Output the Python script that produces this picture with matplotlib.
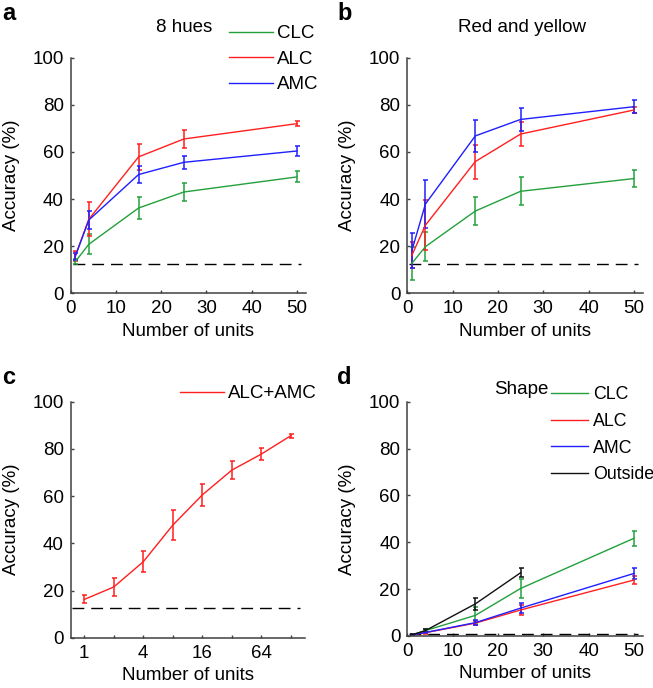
import matplotlib
matplotlib.use("Agg")
import matplotlib.pyplot as plt
import numpy as np

plt.rcParams['font.family'] = ['Liberation Sans', 'DejaVu Sans']
plt.rcParams['font.size'] = 13.5

GREEN = '#23a03c'
RED = '#ff1f1f'
BLUE = '#1f1fff'
BLACK = '#111111'

# panel a: 8 hues
units = [1, 4, 15, 25, 50]
a_clc = [13.4, 20.8, 36.2, 43.0, 49.4]
a_clc_err = [1.0, 4.2, 4.5, 4.0, 2.3]
a_alc = [15.8, 31.4, 57.9, 65.5, 72.0]
a_alc_err = [2.1, 7.2, 5.5, 3.7, 1.1]
a_amc = [15.6, 31.1, 50.4, 55.6, 60.4]
a_amc_err = [1.6, 4.0, 3.5, 2.8, 2.0]

# panel b: red and yellow
b_clc = [12.7, 19.8, 34.9, 43.3, 48.7]
b_clc_err = [7.0, 6.3, 5.9, 5.9, 3.7]
b_alc = [16.1, 28.9, 55.9, 67.6, 77.8]
b_alc_err = [5.5, 10.7, 7.2, 5.0, 1.4]
b_amc = [18.1, 37.9, 66.8, 73.8, 79.2]
b_amc_err = [7.4, 10.3, 6.9, 4.7, 2.8]

# panel c: ALC+AMC, log2 units
c_units = [1, 2, 4, 8, 16, 32, 64, 128]
c_acc = [16.2, 21.5, 32.2, 47.7, 60.5, 71.0, 77.8, 85.6]
c_err = [1.7, 3.8, 4.5, 6.4, 4.5, 3.7, 2.4, 0.8]

# panel d: shape
d_clc = [0.5, 2.3, 8.8, 20.3, 41.7]
d_clc_err = [0.2, 0.6, 3.5, 4.1, 3.3]
d_alc = [0.5, 1.4, 5.5, 11.1, 23.9]
d_alc_err = [0.2, 0.4, 1.0, 2.2, 1.8]
d_amc = [0.5, 1.5, 5.7, 11.9, 26.7]
d_amc_err = [0.2, 0.4, 1.0, 2.0, 2.4]
d_out_units = [1, 4, 15, 25]
d_out = [0.5, 2.3, 13.7, 27.0]
d_out_err = [0.2, 0.6, 2.6, 2.0]

chance_color = 12.5
chance_shape = 1.0

W, H = 653, 688
fig = plt.figure(figsize=(W / 100, H / 100), dpi=100)
DASH = (0, (8.5, 5))


def make_ax(left, top, right, bottom):
    ax = fig.add_axes([left / W, 1 - bottom / H, (right - left) / W, (bottom - top) / H])
    for s in ['top', 'right']:
        ax.spines[s].set_visible(False)
    for s in ['left', 'bottom']:
        ax.spines[s].set_color('#404040')
        ax.spines[s].set_linewidth(1.1)
    ax.tick_params(direction='in', length=2.5, width=1.0, color='#404040', pad=5,
                   labelsize=13.5)
    ax.tick_params(which='minor', direction='in', length=2.5, width=1.0, color='#404040')
    ax.set_ylim(0, 100)
    ax.set_yticks([0, 20, 40, 60, 80, 100])
    ax.set_ylabel('Accuracy (%)', fontsize=13.5, labelpad=9)
    ax.set_xlabel('Number of units', fontsize=13.5, labelpad=4)
    return ax


def curve(ax, x, y, e, color, label=None):
    ax.errorbar(x, y, yerr=e, color=color, lw=1.0, elinewidth=1.1, capsize=1.8,
                capthick=1.1, label=label)


def lin_axis(ax, chance):
    ax.set_xlim(0, 52)
    ax.set_xticks([0, 10, 20, 30, 40, 50])
    ax.hlines(chance, 0.4, 50.8, colors='black', linestyles=DASH, lw=1.0)


def add_legend(ax, x, y, size=13.5, **kw):
    h, l = ax.get_legend_handles_labels()
    h = [x_[0] for x_ in h]
    fig.legend(h, l, loc='upper left', bbox_to_anchor=(x / W, 1 - y / H), frameon=False,
               borderpad=0, borderaxespad=0, fontsize=size, **kw)


# a
ax = make_ax(70.7, 57.7, 306, 293.3)
lin_axis(ax, chance_color)
curve(ax, units, a_clc, a_clc_err, GREEN, 'CLC')
curve(ax, units, a_alc, a_alc_err, RED, 'ALC')
curve(ax, units, a_amc, a_amc_err, BLUE, 'AMC')
add_legend(ax, 229, 25, handlelength=2.35, handletextpad=0.2, labelspacing=0.45)
fig.text(184 / W, 1 - 28 / H, '8 hues', ha='center', va='center', fontsize=13.5)

# b
ax = make_ax(407.3, 57.7, 643, 293.3)
lin_axis(ax, chance_color)
curve(ax, units, b_clc, b_clc_err, GREEN)
curve(ax, units, b_alc, b_alc_err, RED)
curve(ax, units, b_amc, b_amc_err, BLUE)
fig.text(521.7 / W, 1 - 28 / H, 'Red and yellow', ha='center', va='center', fontsize=13.5)

# c
ax = make_ax(70.7, 401.7, 305, 637.7)
ax.set_xscale('log', base=2)
ax.set_xlim(2 ** -0.46, 2 ** 7.48)
ax.set_xticks([1, 4, 16, 64])
ax.set_xticklabels(['1', '4', '16', '64'])
ax.set_xticks([2, 8, 32, 128], minor=True)
ax.xaxis.set_minor_formatter(matplotlib.ticker.NullFormatter())
ax.hlines(chance_color, 2 ** -0.43, 2 ** 7.3, colors='black', linestyles=DASH, lw=1.0)
curve(ax, c_units, c_acc, c_err, RED, 'ALC+AMC')
add_legend(ax, 180, 385, handlelength=2.35, handletextpad=0.2)

# d
ax = make_ax(407.3, 401.7, 643, 636)
lin_axis(ax, chance_shape)
curve(ax, units, d_clc, d_clc_err, GREEN, 'CLC')
curve(ax, units, d_alc, d_alc_err, RED, 'ALC')
curve(ax, units, d_amc, d_amc_err, BLUE, 'AMC')
curve(ax, d_out_units, d_out, d_out_err, BLACK, 'Outside')
add_legend(ax, 551, 386, size=12.8, handlelength=2.1, handletextpad=0.25, labelspacing=0.55)
fig.text(521.5 / W, 1 - 389 / H, 'Shape', ha='center', va='center', fontsize=13.5)

# panel letters
for x, y, s in [(2, 14, 'a'), (337, 14, 'b'), (2, 377, 'c'), (337, 377, 'd')]:
    fig.text(x / W, 1 - y / H, s, ha='left', va='center', fontsize=17, fontweight='bold')

fig.savefig('out.png', dpi=100)
